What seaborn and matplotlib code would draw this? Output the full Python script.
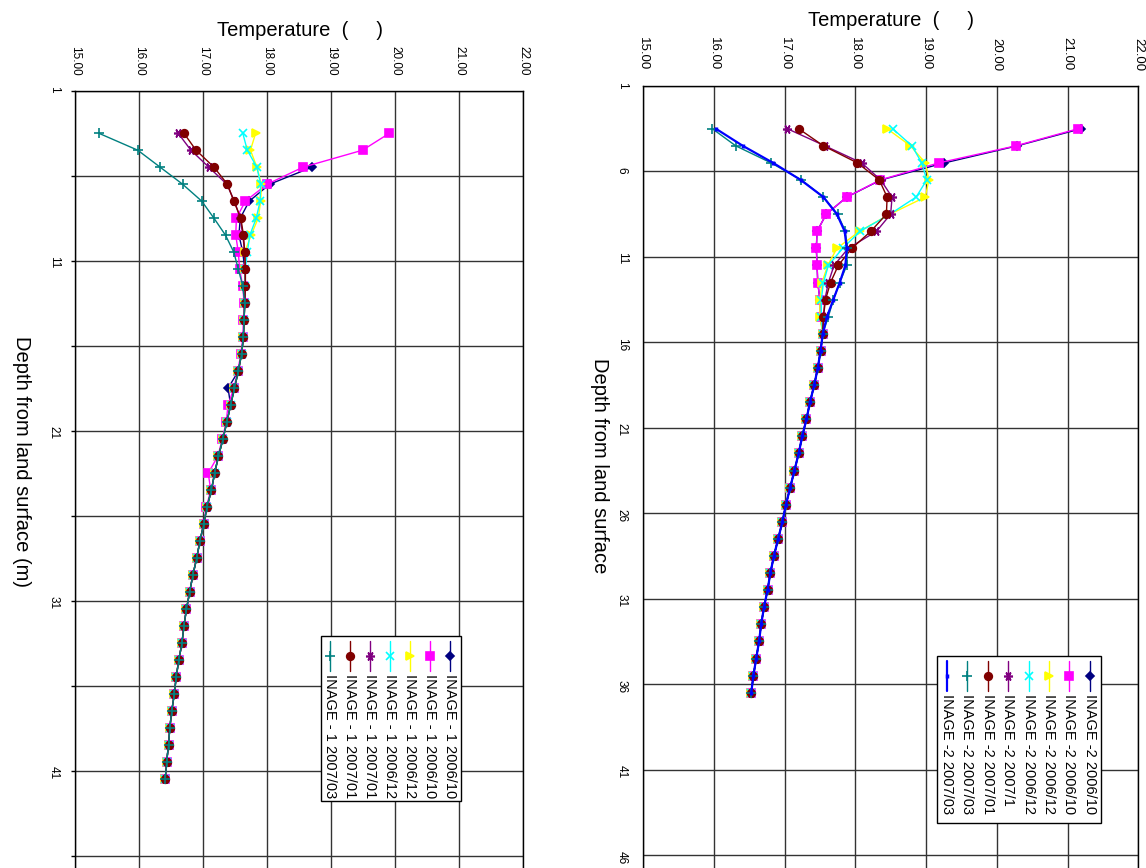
import numpy as np
import matplotlib
matplotlib.use("Agg")
import matplotlib.pyplot as plt
import seaborn as sns
from matplotlib.lines import Line2D
from matplotlib.patches import Rectangle

sns.set_style("white")
plt.rcParams['font.family'] = ['Liberation Sans', 'DejaVu Sans']
plt.rcParams['text.color'] = 'black'
plt.rcParams['xtick.color'] = 'black'
plt.rcParams['ytick.color'] = 'black'

# depth of each reading below land surface (m)
depth_1 = np.arange(3.5, 42.0, 1.0)   # INAGE-1 : 3.5 .. 41.5
depth_2 = np.arange(3.5, 37.0, 1.0)   # INAGE-2 : 3.5 .. 36.5

temp_ticks = [15, 16, 17, 18, 19, 20, 21, 22]
temp_labels = ["15.00", "16.00", "17.00", "18.00", "19.00", "20.00", "21.00", "22.00"]
depth_ticks_1 = [1, 11, 21, 31, 41]
depth_minor_1 = [6, 16, 26, 36, 46]
depth_ticks_2 = [1, 6, 11, 16, 21, 26, 31, 36, 41, 46]

# ---- INAGE-1 temperatures (deg C) ----
# below 10 m all surveys nearly coincide
inage1_deep = [17.65, 17.66, 17.66, 17.65, 17.64, 17.63, 17.60, 17.55, 17.49, 17.43,
               17.37, 17.31, 17.24, 17.18, 17.13, 17.06, 17.01, 16.95, 16.90, 16.84,
               16.79, 16.74, 16.70, 16.67, 16.62, 16.58, 16.55, 16.51, 16.48, 16.46,
               16.43, 16.41]
i1_0610_a = [18.70, 18.04, 17.72, 17.58, 17.56, 17.62, 17.65, 17.66, 17.65, 17.64,
             17.63, 17.60, 17.55, 17.39] + inage1_deep[9:]
i1_0610_b = [19.91, 19.49, 18.56, 18.00, 17.66, 17.52, 17.51, 17.55, 17.57, 17.62,
             17.64, 17.63, 17.62, 17.59, 17.54, 17.48, 17.39, 17.36, 17.30, 17.23,
             17.08, 17.12, 17.05] + inage1_deep[16:]
i1_0612_a = [17.82, 17.74, 17.84, 17.91, 17.90, 17.86, 17.75] + inage1_deep
i1_0612_b = [17.62, 17.69, 17.84, 17.90, 17.89, 17.83, 17.73, 17.69, 17.66] + inage1_deep[2:]
i1_0701_a = [16.61, 16.81, 17.09, 17.37, 17.49, 17.58, 17.62] + inage1_deep
i1_0701_b = [16.70, 16.89, 17.17, 17.38, 17.48, 17.59, 17.63] + inage1_deep
i1_0703 = [15.37, 15.98, 16.33, 16.68, 16.98, 17.17, 17.35, 17.48, 17.55, 17.62] + inage1_deep[3:]

# ---- INAGE-2 temperatures (deg C) ----
inage2_deep = [17.54, 17.51, 17.47, 17.42, 17.36, 17.31, 17.25, 17.20, 17.14, 17.08,
               17.02, 16.97, 16.91, 16.85, 16.80, 16.76, 16.71, 16.67, 16.64, 16.60,
               16.56, 16.53]
i2_0610_a = [21.19, 20.29, 19.26, 18.36, 17.88, 17.59, 17.46, 17.45, 17.46, 17.47, 17.50, 17.51] + inage2_deep
i2_0610_b = [21.15, 20.27, 19.18, 18.35, 17.88, 17.59, 17.46, 17.45, 17.46, 17.47, 17.50, 17.51] + inage2_deep
i2_0612_a = [18.45, 18.78, 18.99, 19.04, 18.99, 18.49, 18.06, 17.74, 17.61, 17.53, 17.50, 17.50] + inage2_deep
i2_0612_b = [18.53, 18.80, 18.94, 19.01, 18.86, 18.49, 18.07, 17.82, 17.62, 17.55, 17.52, 17.52] + inage2_deep
i2_0701_a = [17.04, 17.57, 18.09, 18.36, 18.52, 18.50, 18.30, 17.90, 17.70, 17.62, 17.57, 17.55] + inage2_deep
i2_0701_b = [17.20, 17.55, 18.03, 18.34, 18.45, 18.44, 18.22, 17.95, 17.76, 17.65, 17.58, 17.55] + inage2_deep
i2_0703_a = [15.98, 16.31, 16.81, 17.24, 17.55, 17.75, 17.86, 17.89, 17.88, 17.78, 17.69, 17.62] + inage2_deep
i2_0703_b = [16.03, 16.41, 16.84, 17.23, 17.55, 17.74, 17.85, 17.88, 17.86, 17.78, 17.69, 17.60] + inage2_deep

# style per series: (label, depths, temps, colour, marker, size, line width)
series_1 = [
    ("INAGE - 1 2006/10", depth_1[2:], i1_0610_a, "#000080", "D", 4.5, 1.0),
    ("INAGE - 1 2006/10", depth_1, i1_0610_b, "#FF00FF", "s", 5.5, 1.0),
    ("INAGE - 1 2006/12", depth_1, i1_0612_a, "#FFFF00", ">", 6, 1.0),
    ("INAGE - 1 2006/12", depth_1, i1_0612_b, "#00FFFF", "x", 6, 1.0),
    ("INAGE - 1 2007/01", depth_1, i1_0701_a, "#800080", (6, 2, 90), 6.5, 1.0),
    ("INAGE - 1 2007/01", depth_1, i1_0701_b, "#800000", "o", 5.5, 1.0),
    ("INAGE - 1 2007/03", depth_1, i1_0703, "#008080", "+", 6.5, 1.0),
]
series_2 = [
    ("INAGE -2 2006/10", depth_2, i2_0610_a, "#000080", "D", 4.5, 1.0),
    ("INAGE -2 2006/10", depth_2, i2_0610_b, "#FF00FF", "s", 5.5, 1.0),
    ("INAGE -2 2006/12", depth_2, i2_0612_a, "#FFFF00", ">", 6, 1.0),
    ("INAGE -2 2006/12", depth_2, i2_0612_b, "#00FFFF", "x", 6, 1.0),
    ("INAGE -2 2007/1", depth_2, i2_0701_a, "#800080", (6, 2, 90), 6.5, 1.0),
    ("INAGE -2 2007/01", depth_2, i2_0701_b, "#800000", "o", 5.5, 1.0),
    ("INAGE -2 2007/03", depth_2, i2_0703_a, "#008080", "+", 6.5, 1.0),
    ("INAGE -2 2007/03", depth_2, i2_0703_b, "#0000FF", "|", 3.5, 1.6),
]

W, H = 1146, 868
fig = plt.figure(figsize=(W / 100, H / 100), dpi=100)


def fx(x):
    return x / W


def fy(y):
    return 1 - y / H


def setup_axes(ax, major, minor, tick_size, tick_len):
    ax.set_xlim(15, 22)
    ax.set_ylim(51, 1)
    ax.xaxis.tick_top()
    ax.set_xticks(temp_ticks)
    ax.set_xticklabels(temp_labels)
    ax.set_yticks(major)
    ax.set_yticklabels([str(v) for v in major])
    if minor:
        ax.set_yticks(minor, minor=True)
    ax.tick_params(axis="x", length=0, pad=11, labelsize=tick_size, labelrotation=-90)
    ax.tick_params(axis="y", which="both", direction="out", length=tick_len, width=1,
                   color="black", left=True, pad=11 - tick_len, labelsize=8.5,
                   labelrotation=-90)
    ax.grid(True, which="both", color="#333333", linewidth=1)
    for s in ax.spines.values():
        s.set_color("black")
        s.set_linewidth(1)
    ax.set_xlabel("")
    ax.set_ylabel("")


def draw_series(ax, series):
    for label, d, t, c, m, ms, lw in series:
        mew = 2.5 if m == "|" else 1.2
        sns.lineplot(x=t, y=d, ax=ax, sort=False, estimator=None, color=c,
                     marker=m, markersize=ms, markerfacecolor=c, markeredgecolor=c,
                     markeredgewidth=mew, linewidth=lw, legend=False)


def draw_legend(series, box, x0, step, line_top, text_top):
    x1, y1, x2, y2 = box
    fig.add_artist(Rectangle((fx(x1), fy(y2)), fx(x2 - x1), (y2 - y1) / H,
                             transform=fig.transFigure, facecolor="white",
                             edgecolor="black", linewidth=1, zorder=5))
    for i, (label, d, t, c, m, ms, lw) in enumerate(reversed(series)):
        x = x0 + i * step
        mew = 2.5 if m == "|" else 1.2
        fig.add_artist(Line2D([fx(x), fx(x)], [fy(line_top), fy(line_top + 30)],
                              transform=fig.transFigure, color=c, linewidth=lw, zorder=6))
        fig.add_artist(Line2D([fx(x)], [fy(line_top + 15)], transform=fig.transFigure,
                              marker=m, markersize=ms, color=c, markerfacecolor=c,
                              markeredgecolor=c, markeredgewidth=mew, zorder=7))
        fig.text(fx(x), fy(text_top), label, rotation=270, ha="center", va="top",
                 fontsize=10.5, zorder=7)


# left panel: INAGE-1
ax1 = fig.add_axes([fx(75), fy(940.7), fx(523.3 - 75), 850 / H])
draw_series(ax1, series_1)
setup_axes(ax1, depth_ticks_1, depth_minor_1, 8.5, 3)

# right panel: INAGE-2
ax2 = fig.add_axes([fx(643), fy(940.5), fx(1138.3 - 643), 854.5 / H])
draw_series(ax2, series_2)
setup_axes(ax2, depth_ticks_2, None, 9.5, 0)

fig.text(fx(300), fy(30), "Temperature  (     )", ha="center", va="center", fontsize=14.5)
fig.text(fx(891), fy(21), "Temperature  (     )", ha="center", va="center", fontsize=14.5)
fig.text(fx(21), fy(462), "Depth from land surface (m)", rotation=270,
         ha="center", va="center", fontsize=14.5)
fig.text(fx(600), fy(466), "Depth from land surface", rotation=270,
         ha="center", va="center", fontsize=14.5)

draw_legend(series_1, (320.7, 636, 460.7, 801), 330, 20, 641, 674)
draw_legend(series_2, (937.3, 656, 1100.7, 822.7), 947, 20.4, 661, 694)

fig.savefig("out.png", dpi=100)
